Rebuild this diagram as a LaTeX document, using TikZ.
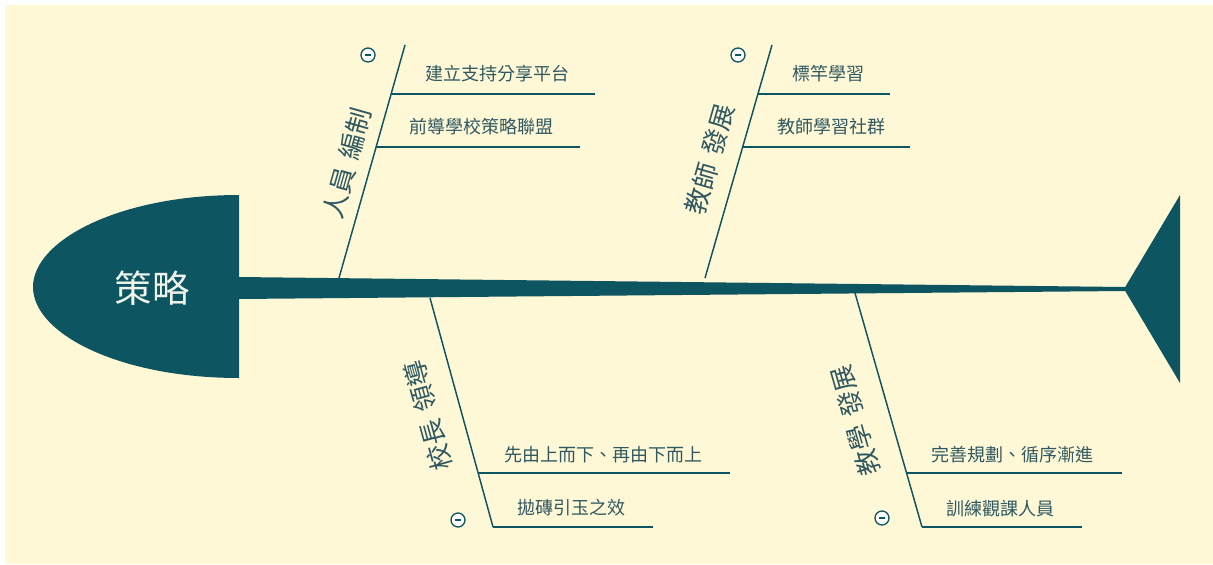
\documentclass[tikz,border=0pt]{standalone}
\usepackage{fontspec}
\setmainfont{Noto Sans CJK TC}
\definecolor{bgc}{RGB}{255,248,214}
\definecolor{fishc}{RGB}{14,85,98}
\definecolor{txtc}{RGB}{47,88,98}
\definecolor{headtxt}{RGB}{240,245,235}
\begin{document}
\begin{tikzpicture}[x=0.75pt,y=-0.75pt,
  bone/.style={draw=fishc, line width=1.1pt},
  twig/.style={draw=fishc, line width=1.5pt},
  leaf/.style={anchor=west, text=txtc, font=\fontsize{13.5}{15}\selectfont, inner sep=0pt},
  cat/.style={text=txtc, font=\fontsize{19.5}{22}\selectfont, inner sep=0pt},
  minusbtn/.style={circle, draw=fishc, fill=white, line width=1pt, minimum size=10.5pt, inner sep=0pt,
    path picture={\draw[fishc, line width=0.8pt] ([xshift=-2.4pt]path picture bounding box.center) -- ([xshift=2.4pt]path picture bounding box.center);}}]
\useasboundingbox (0,0) rectangle (1213,564);
\fill[white] (0,0) rectangle (1213,564);
\fill[bgc] (5,5) rectangle (1213,564);
% head
\fill[fishc] (239,195) .. controls (120,195) and (33,240) .. (33,287) .. controls (33,334) and (120,378) .. (239,378) -- cycle;
\node[text=headtxt, font=\fontsize{28}{30}\selectfont, inner sep=0pt] (head) at (152,288) {策略};
% spine and tail
\fill[fishc] (239,277) -- (1125,287) -- (1125,291) -- (239,299) -- cycle;
\fill[fishc] (1124,289) -- (1180,195) -- (1180,383) -- cycle;
% bone 1: top-left
\coordinate (b1s) at (339,278); \coordinate (b1e) at (405,45);
\draw[bone] (b1s) -- (b1e);
\coordinate (t11s) at (391,94); \coordinate (t11e) at (595,94);
\coordinate (t12s) at (376,147); \coordinate (t12e) at (580,147);
\draw[twig] (t11s) -- (t11e);
\draw[twig] (t12s) -- (t12e);
\node[leaf] (l11) at (425,74) {建立支持分享平台};
\node[leaf] (l12) at (409,127) {前導學校策略聯盟};
\node[cat, rotate=74.2] (c1) at (347,163) {人員\hspace{0.35em}編制};
\node[minusbtn] (m1) at (368,55) {};
% bone 2: top-right
\coordinate (b2s) at (705,278); \coordinate (b2e) at (772,45);
\draw[bone] (b2s) -- (b2e);
\coordinate (t21s) at (758,94); \coordinate (t21e) at (890,94);
\coordinate (t22s) at (743,147); \coordinate (t22e) at (910,147);
\draw[twig] (t21s) -- (t21e);
\draw[twig] (t22s) -- (t22e);
\node[leaf] (l21) at (792,74) {標竿學習};
\node[leaf] (l22) at (777,127) {教師學習社群};
\node[cat, rotate=74] (c2) at (710,159) {教師\hspace{0.35em}發展};
\node[minusbtn] (m2) at (738,55) {};
% bone 3: bottom-left
\coordinate (b3s) at (430,298); \coordinate (b3e) at (493,527);
\draw[bone] (b3s) -- (b3e);
\coordinate (t31s) at (478,473); \coordinate (t31e) at (730,473);
\coordinate (t32s) at (493,527); \coordinate (t32e) at (653,527);
\draw[twig] (t31s) -- (t31e);
\draw[twig] (t32s) -- (t32e);
\node[leaf] (l31) at (504,455) {先由上而下、再由下而上};
\node[leaf] (l32) at (517,508) {拋磚引玉之效};
\node[cat, rotate=105.4] (c3) at (428,416) {校長\hspace{0.35em}領導};
\node[minusbtn] (m3) at (458,520) {};
% bone 4: bottom-right
\coordinate (b4s) at (855,293); \coordinate (b4e) at (922,527);
\draw[bone] (b4s) -- (b4e);
\coordinate (t41s) at (906,473); \coordinate (t41e) at (1122,473);
\coordinate (t42s) at (922,527); \coordinate (t42e) at (1082,527);
\draw[twig] (t41s) -- (t41e);
\draw[twig] (t42s) -- (t42e);
\node[leaf] (l41) at (931,455) {完善規劃、循序漸進};
\node[leaf] (l42) at (946,509) {訓練觀課人員};
\node[cat, rotate=106] (c4) at (855,421) {教學\hspace{0.35em}發展};
\node[minusbtn] (m4) at (882,518) {};
\end{tikzpicture}
\end{document}
